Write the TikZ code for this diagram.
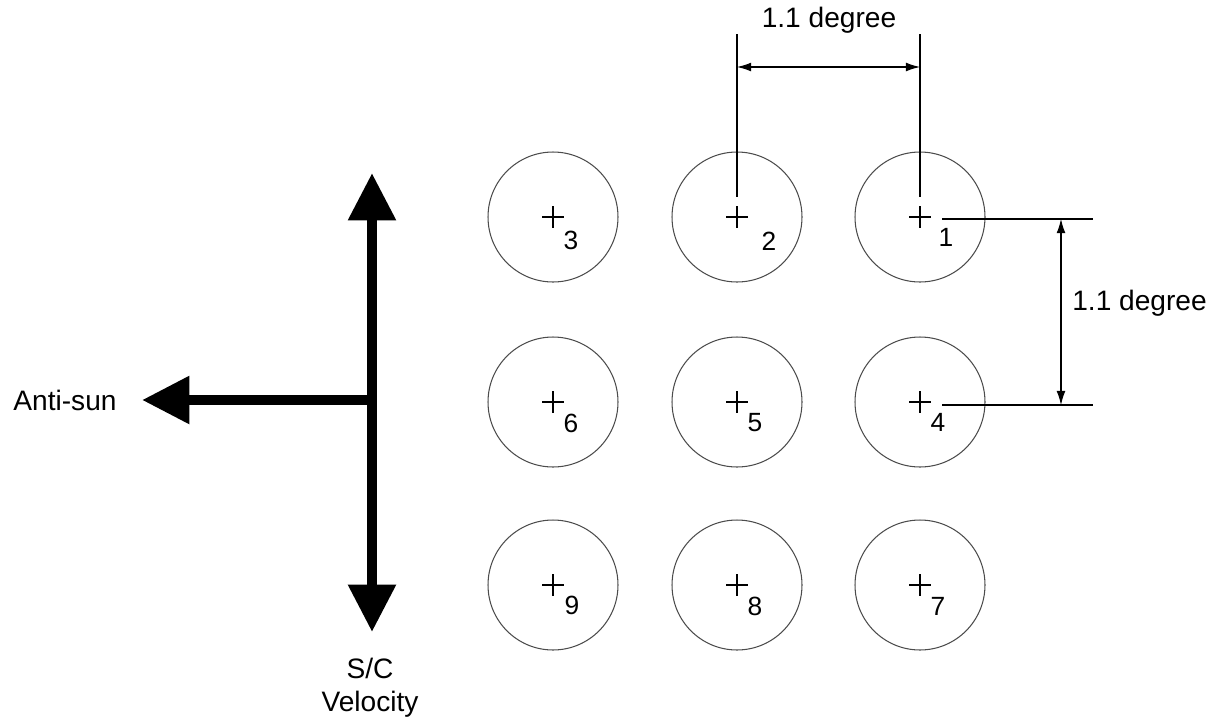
\documentclass[tikz,border=0pt]{standalone}
\usepackage{fontspec}
\setmainfont{Liberation Sans}
\usetikzlibrary{arrows.meta, positioning}

\begin{document}
\begin{tikzpicture}[x=0.02cm, y=-0.02cm,
      beam/.style={circle, draw=black!70, line width=0.6pt, minimum size=2.6cm, inner sep=0pt},
      num/.style={font=\fontsize{15}{18}\selectfont, inner sep=0pt},
      lbl/.style={font=\fontsize{16}{19}\selectfont, align=center, inner sep=0pt},
      dim/.style={line width=0.6pt},
      dimarrow/.style={line width=0.6pt, {Latex[length=8pt,width=5pt]}-{Latex[length=8pt,width=5pt]}},
      bigarrow/.style={line width=5.7pt, -{Triangle[length=27pt,width=26pt]}}]

    \useasboundingbox (0,0) rectangle (1215,721);

    % Beam footprints: #/x/y/label dx/label dy
    \foreach \n/\x/\y/\dx/\dy in {1/920/217/26/20, 2/737/217/32/24, 3/553/217/18/23,
                                  4/920/402/18/20, 5/737/402/18/21, 6/553/402/18/21,
                                  7/920/585/18/21, 8/737/585/18/21, 9/553/585/19/20} {
        \node[beam] (c\n) at (\x,\y) {};
        \draw[dim] ([shift={(-11,0)}]c\n.center) -- ([shift={(11,0)}]c\n.center)
                   ([shift={(0,-11)}]c\n.center) -- ([shift={(0,11)}]c\n.center);
        \node[num] (l\n) at ([shift={(\dx,\dy)}]c\n.center) {\n};
    }

    % Horizontal spacing
    \coordinate (t2) at ([shift={(0,-183)}]c2.center);
    \coordinate (t1) at ([shift={(0,-183)}]c1.center);
    \draw[dim] (t2) -- ([shift={(0,-20)}]c2.center);
    \draw[dim] (t1) -- ([shift={(0,-20)}]c1.center);
    \draw[dimarrow] ([shift={(0,33)}]t2) -- ([shift={(0,33)}]t1);
    \node[lbl] (toplbl) at (829,20) {1.1 degree};

    % Vertical spacing
    \coordinate (r1) at ([shift={(173,2)}]c1.center);
    \coordinate (r4) at ([shift={(173,3)}]c4.center);
    \draw[dim] ([shift={(22,2)}]c1.center) -- (r1);
    \draw[dim] ([shift={(22,3)}]c4.center) -- (r4);
    \draw[dimarrow] ([shift={(-32,0)}]r1) -- ([shift={(-32,0)}]r4);
    \node[lbl, anchor=west] (rightlbl) at (1072,303) {1.1 degree};

    % Direction arrows
    \coordinate (hub) at (372,400);
    \coordinate (up) at (372,173);
    \coordinate (down) at (372,632);
    \coordinate (sun) at (142,400);
    \draw[bigarrow] (hub) -- (up);
    \draw[bigarrow] (hub) -- (down);
    \draw[bigarrow] (hub) -- (sun);
    \node[lbl] (sunlbl) at (65,400) {Anti-sun};
    \node[lbl] (velolbl) at (370,688) {S/C\\Velocity};

\end{tikzpicture}
\end{document}
